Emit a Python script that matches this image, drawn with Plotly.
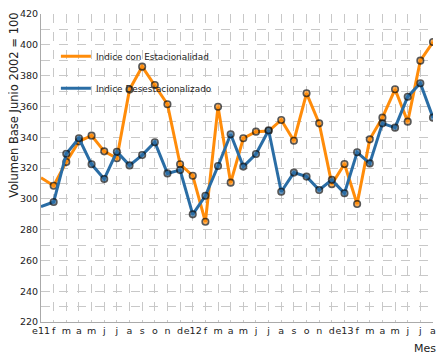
import plotly.graph_objects as go

meses = ["e11", "f", "m", "a", "m", "j", "j", "a", "s", "o", "n", "d",
         "e12", "f", "m", "a", "m", "j", "j", "a", "s", "o", "n", "d",
         "e13", "f", "m", "a", "m", "j", "j", "a"]

con_estacionalidad = [313.7, 308.5, 323.9, 337.3, 341.0, 330.8, 326.3, 370.9,
                      385.8, 373.9, 361.4, 322.4, 315.0, 285.1, 359.8, 310.5,
                      339.3, 343.6, 344.0, 351.2, 337.7, 368.5, 349.0, 309.5,
                      322.6, 296.6, 338.6, 352.7, 371.1, 350.1, 389.7, 401.8]

desestacionalizado = [294.9, 297.9, 329.3, 339.3, 322.4, 312.9, 330.6, 321.7,
                      328.4, 336.7, 316.5, 318.7, 289.9, 302.0, 321.3, 341.9,
                      320.9, 329.1, 344.5, 304.6, 317.0, 314.4, 305.7, 312.3,
                      303.6, 330.2, 323.0, 349.0, 346.2, 366.3, 375.0, 352.7]

series_names = ["Indice con Estacionalidad", "Indice Desestacionalizado"]

idx = list(range(len(meses)))
orange = "#FF8C0A"
blue = "#2A6DA5"
msize = [0] + [6.5] * (len(meses) - 1)

fig = go.Figure()
for name, vals, col in [(series_names[0], con_estacionalidad, orange),
                        (series_names[1], desestacionalizado, blue)]:
    fig.add_trace(go.Scatter(
        x=idx, y=vals, mode="lines+markers", name=name, showlegend=False,
        line=dict(color=col, width=3),
        marker=dict(size=msize, color=col, line=dict(color="#111111", width=1.6))))
for name, col in [(series_names[0], orange), (series_names[1], blue)]:
    fig.add_trace(go.Scatter(
        x=[None], y=[None], mode="lines", name=name, legendgroup=name,
        line=dict(color=col, width=3)))

grid = "#c8c8c8"
# the page body adds an 8px offset, so the figure is 8px smaller and margins shifted
fig.update_layout(
    width=439, height=350,
    margin=dict(l=33, r=14, t=6, b=36),
    paper_bgcolor="white", plot_bgcolor="white",
    font=dict(family="DejaVu Sans", size=9.5, color="#222222"),
    showlegend=True,
    legend=dict(x=0.038, y=0.91, xanchor="left", yanchor="top",
                traceorder="grouped", tracegroupgap=13,
                bgcolor="rgba(0,0,0,0)", font=dict(size=8.9, color="#222222")),
    xaxis=dict(
        range=[0, len(meses) - 1], tickvals=idx, ticktext=meses,
        tickangle=0, automargin=False,
        showgrid=True, gridcolor=grid, griddash="dash", gridwidth=1,
        showline=True, linecolor="#aaaaaa", linewidth=1,
        ticks="", tickfont=dict(size=9.5), zeroline=False,
    ),
    yaxis=dict(
        range=[220, 420], dtick=20, tick0=220, automargin=False,
        showgrid=True, gridcolor=grid, griddash="dash", gridwidth=1,
        minor=dict(dtick=10, tick0=220, showgrid=True, gridcolor=grid, griddash="dash"),
        showline=True, linecolor="#aaaaaa", linewidth=1,
        ticks="", tickfont=dict(size=9.5), zeroline=False,
    ),
    annotations=[
        dict(text="Volumen Base Junio 2002 = 100", textangle=-90,
             xref="paper", yref="paper", x=-0.069, y=0.705,
             xanchor="center", yanchor="middle", showarrow=False,
             font=dict(size=11.5, color="#222222")),
        dict(text="Mes", xref="paper", yref="paper", x=1.012, y=-0.058,
             xanchor="right", yanchor="top", showarrow=False,
             font=dict(size=11, color="#222222")),
    ],
)

fig.write_html("out.html")
